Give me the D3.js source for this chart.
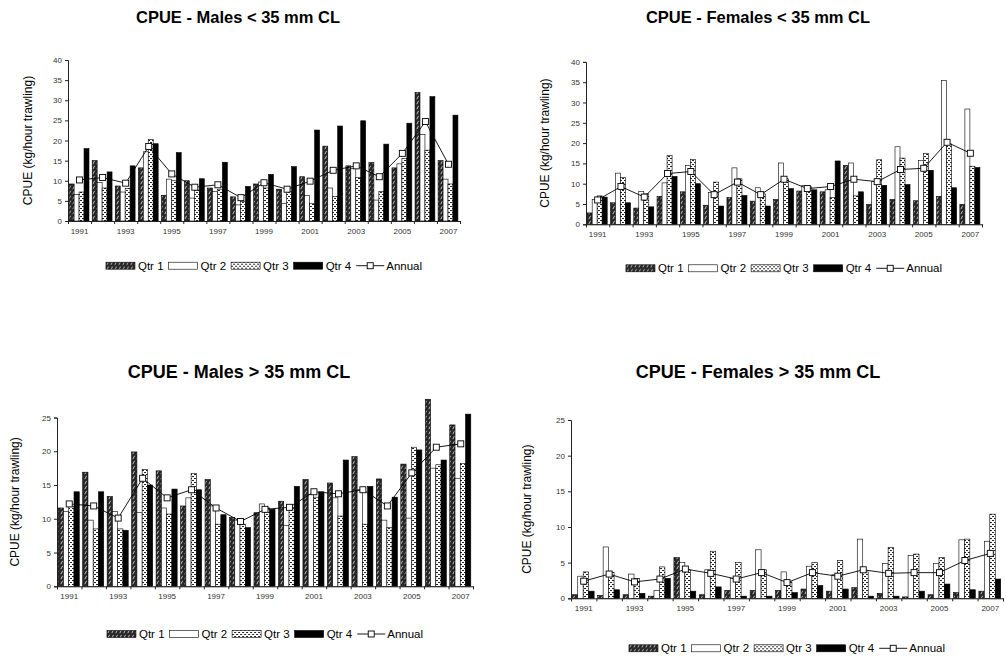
<!DOCTYPE html>
<html><head><meta charset="utf-8">
<script src="https://cdn.jsdelivr.net/npm/d3@7"></script>
<style>
html,body{margin:0;padding:0;background:#fff;}
svg{display:block;font-family:"Liberation Sans",Arial,sans-serif;}
</style></head>
<body>
<svg id="c" width="1006" height="656"></svg>
<script>
const years = [1991,1992,1993,1994,1995,1996,1997,1998,1999,2000,2001,2002,2003,2004,2005,2006,2007];
const quarters = ["Qtr 1","Qtr 2","Qtr 3","Qtr 4"];
const yearLabels = ["1991","1993","1995","1997","1999","2001","2003","2005","2007"];

// Males < 35 mm CL
const malesSmallQ1 = [9.2,15.0,8.7,13.2,6.4,10.0,8.2,6.0,9.2,7.9,11.0,18.6,13.7,14.5,13.2,31.9,15.0];
const malesSmallQ2 = [6.6,9.6,7.2,17.2,10.4,5.7,7.3,4.0,9.7,4.4,6.3,8.2,13.0,5.2,14.2,21.5,10.4];
const malesSmallQ3 = [7.2,8.2,8.1,20.2,10.0,7.7,7.9,4.8,8.2,7.3,4.4,6.1,10.8,7.3,15.5,17.6,9.2];
const malesSmallQ4 = [18.0,12.2,13.7,19.2,17.0,10.5,14.6,8.6,11.6,13.5,22.6,23.6,24.9,19.1,24.3,30.9,26.3];
const malesSmallAnnual = [10.2,10.8,9.4,18.5,11.7,8.4,9.0,5.8,9.5,7.9,9.9,12.6,13.7,11.0,16.8,24.7,14.1];

// Females < 35 mm CL
const femalesSmallQ1 = [2.8,5.3,4.0,6.9,8.0,4.7,6.6,5.7,6.1,8.2,8.0,14.5,4.9,6.1,5.8,6.9,4.9];
const femalesSmallQ2 = [6.1,12.6,8.1,10.2,14.5,7.8,13.9,9.0,15.1,9.6,8.5,15.1,10.5,19.1,15.7,35.4,28.4];
const femalesSmallQ3 = [7.0,11.5,7.5,17.0,16.0,10.4,11.2,7.5,11.2,9.2,6.6,7.0,15.9,16.3,17.5,19.8,14.3];
const femalesSmallQ4 = [6.7,5.3,4.3,11.8,10.0,4.5,7.1,4.5,8.8,8.5,15.6,8.0,9.6,9.8,13.3,9.0,14.0];
const femalesSmallAnnual = [6.0,9.3,6.7,12.5,13.0,7.3,10.4,7.3,11.1,8.8,9.3,11.1,10.5,13.5,13.8,20.2,17.5];

// Males > 35 mm CL
const malesLargeQ1 = [11.6,16.9,13.3,19.9,17.1,11.9,15.8,10.2,10.9,12.6,15.8,15.3,19.2,15.9,18.1,27.7,23.9];
const malesLargeQ2 = [11.1,9.8,11.1,10.9,11.6,13.1,11.9,9.8,12.2,9.0,13.6,13.1,14.3,9.8,10.1,17.5,16.0];
const malesLargeQ3 = [11.8,8.5,8.5,17.3,10.7,16.7,9.2,9.2,11.6,11.7,13.2,10.4,9.2,8.7,20.6,18.0,18.2];
const malesLargeQ4 = [14.0,14.0,8.3,15.0,14.4,14.3,10.6,8.7,11.4,14.8,14.0,18.7,14.8,13.2,20.2,18.7,25.5];
const malesLargeAnnual = [12.2,11.9,10.1,16.0,13.1,14.3,11.6,9.6,11.4,11.7,14.0,13.7,14.3,11.9,16.8,20.6,21.1];

// Females > 35 mm CL
const femalesLargeQ1 = [0.5,0.4,0.5,0.3,5.7,0.5,1.1,1.1,1.1,1.3,1.0,1.5,0.7,0.2,0.5,0.8,1.0];
const femalesLargeQ2 = [3.1,7.2,3.4,1.1,5.0,4.0,2.8,6.8,3.7,4.5,3.3,8.3,4.9,6.0,4.9,8.2,8.0];
const femalesLargeQ3 = [3.7,3.6,2.8,4.4,4.0,6.6,5.0,4.0,2.3,5.0,5.3,3.7,7.1,6.2,5.7,8.3,11.8];
const femalesLargeQ4 = [1.0,1.2,0.7,2.8,1.0,1.6,0.3,0.3,0.8,1.8,1.3,0.3,0.3,1.0,2.0,1.2,2.7];
const femalesLargeAnnual = [2.4,3.4,2.3,2.7,4.1,3.5,2.7,3.6,2.2,3.6,3.1,4.0,3.5,3.6,3.6,5.3,6.3];

const titles = ["CPUE - Males < 35 mm CL","CPUE - Females < 35 mm CL","CPUE - Males > 35 mm CL","CPUE - Females > 35 mm CL"];
const yLabel = "CPUE (kg/hour trawling)";
const legendAnnual = "Annual";

const panels = [
  {title:titles[0], q:[malesSmallQ1,malesSmallQ2,malesSmallQ3,malesSmallQ4], annual:malesSmallAnnual, max:40,
   x0:68, x1:460, y0:221, yTop:60, tx:238, ty:22.7, ts:16.5, ylx:28, ly:265.7},
  {title:titles[1], q:[femalesSmallQ1,femalesSmallQ2,femalesSmallQ3,femalesSmallQ4], annual:femalesSmallAnnual, max:40,
   x0:586, x1:982, y0:224.3, yTop:61.9, tx:758, ty:22.7, ts:16.5, ylx:545, ly:268.3},
  {title:titles[2], q:[malesLargeQ1,malesLargeQ2,malesLargeQ3,malesLargeQ4], annual:malesLargeAnnual, max:25,
   x0:57, x1:473, y0:586.3, yTop:417.5, tx:239, ty:377.5, ts:18, ylx:15, ly:634},
  {title:titles[3], q:[femalesLargeQ1,femalesLargeQ2,femalesLargeQ3,femalesLargeQ4], annual:femalesLargeAnnual, max:25,
   x0:571, x1:1003, y0:598.3, yTop:420, tx:758, ty:378, ts:18, ylx:527, ly:648.3}
];

const svg = d3.select("#c");
svg.append("rect").attr("width",1006).attr("height",656).attr("fill","#fff");

// patterns
const defs = svg.append("defs");
const p1 = defs.append("pattern").attr("id","hatch").attr("patternUnits","userSpaceOnUse").attr("width",4).attr("height",5);
p1.append("rect").attr("width",4).attr("height",5).attr("fill","#262626");
p1.append("path").attr("d","M0.8,4.2 L2.6,0.8").attr("stroke","#e8e8e8").attr("stroke-width",0.8);
const p3 = defs.append("pattern").attr("id","dots").attr("patternUnits","userSpaceOnUse").attr("width",4).attr("height",4);
p3.append("rect").attr("width",4).attr("height",4).attr("fill","#fff");
p3.append("rect").attr("x",0).attr("y",0).attr("width",2).attr("height",1).attr("fill","#222");
p3.append("rect").attr("x",2).attr("y",2).attr("width",2).attr("height",1).attr("fill","#222");
const fills = ["url(#hatch)","#fff","url(#dots)","#000"];

panels.forEach(p => {
  const g = svg.append("g");
  const x = d3.scaleBand().domain(years).range([p.x0,p.x1]).paddingInner(0).paddingOuter(0);
  const bw = x.bandwidth();
  const xq = d3.scaleBand().domain(d3.range(4)).range([bw*0.05, bw*0.91]).padding(0);
  const y = d3.scaleLinear().domain([0,p.max]).range([p.y0,p.yTop]);

  // bars
  p.q.forEach((vals,qi) => {
    g.append("g").selectAll("rect").data(vals).join("rect")
      .attr("x",(d,i)=>x(years[i])+xq(qi))
      .attr("width",xq.bandwidth())
      .attr("y",d=>y(d))
      .attr("height",d=>y(0)-y(d))
      .attr("fill",fills[qi])
      .attr("stroke","#000").attr("stroke-width",0.6);
  });

  // annual line
  const line = d3.line().x((d,i)=>x(years[i])+bw/2).y(d=>y(d));
  g.append("path").attr("d",line(p.annual)).attr("fill","none").attr("stroke","#000").attr("stroke-width",0.9);
  g.append("g").selectAll("rect").data(p.annual).join("rect")
    .attr("x",(d,i)=>x(years[i])+bw/2-3).attr("y",d=>y(d)-3)
    .attr("width",6).attr("height",6).attr("fill","#fff").attr("stroke","#000").attr("stroke-width",0.9);

  // y axis
  const ya = g.append("g").attr("transform",`translate(${p.x0},0)`)
    .call(d3.axisLeft(y).tickValues(d3.range(0,p.max+1,5)).tickSize(3).tickPadding(3).tickFormat(d3.format("d")));
  ya.select(".domain").attr("stroke","#222");
  ya.selectAll(".tick line").attr("stroke","#222");
  ya.selectAll("text").attr("font-size",8).attr("fill","#333").attr("font-family","Liberation Sans, Arial, sans-serif");

  // x axis: boundary ticks
  const xb = d3.scaleLinear().domain([0,years.length]).range([p.x0,p.x1]);
  const xa = g.append("g").attr("transform",`translate(0,${p.y0})`)
    .call(d3.axisBottom(xb).tickValues(d3.range(0,years.length+1)).tickSize(3).tickFormat(""));
  xa.select(".domain").attr("stroke","#222");
  xa.selectAll(".tick line").attr("stroke","#222");
  // x labels
  const xl = g.append("g").attr("transform",`translate(0,${p.y0})`)
    .call(d3.axisBottom(x).tickValues(yearLabels.map(Number)).tickSize(0).tickPadding(7));
  xl.select(".domain").remove();
  xl.selectAll("text").attr("font-size",8).attr("fill","#333").attr("font-family","Liberation Sans, Arial, sans-serif");

  // title
  g.append("text").attr("x",p.tx).attr("y",p.ty).attr("text-anchor","middle")
    .attr("font-size",p.ts).attr("font-weight","bold").attr("fill","#000").text(p.title);

  // y label
  g.append("text").attr("transform",`translate(${p.ylx},${(p.y0+p.yTop)/2}) rotate(-90)`)
    .attr("text-anchor","middle").attr("dominant-baseline","central")
    .attr("font-size",12).attr("fill","#000").text(yLabel);

  // legend
  const lg = g.append("g");
  let cx = 0;
  const items = quarters.map((q,i)=>({label:q, fill:fills[i]})).concat([{label:legendAnnual, line:true}]);
  items.forEach(it => {
    const ig = lg.append("g").attr("transform",`translate(${cx},0)`);
    let w;
    if (it.line) {
      ig.append("line").attr("x1",0).attr("x2",28).attr("y1",0).attr("y2",0).attr("stroke","#000").attr("stroke-width",0.9);
      ig.append("rect").attr("x",11).attr("y",-3).attr("width",6).attr("height",6).attr("fill","#fff").attr("stroke","#000").attr("stroke-width",0.9);
      w = 30;
    } else {
      ig.append("rect").attr("x",0).attr("y",-3.5).attr("width",29).attr("height",7).attr("fill",it.fill).attr("stroke","#000").attr("stroke-width",0.6);
      w = 32;
    }
    const t = ig.append("text").attr("x",w).attr("y",0).attr("dominant-baseline","central")
      .attr("font-size",11.5).attr("fill","#000").text(it.label);
    cx += w + t.node().getComputedTextLength() + 5;
  });
  cx -= 5;
  lg.attr("transform",`translate(${(p.x0+p.x1)/2 - cx/2},${p.ly})`);
});
</script>
</body></html>
